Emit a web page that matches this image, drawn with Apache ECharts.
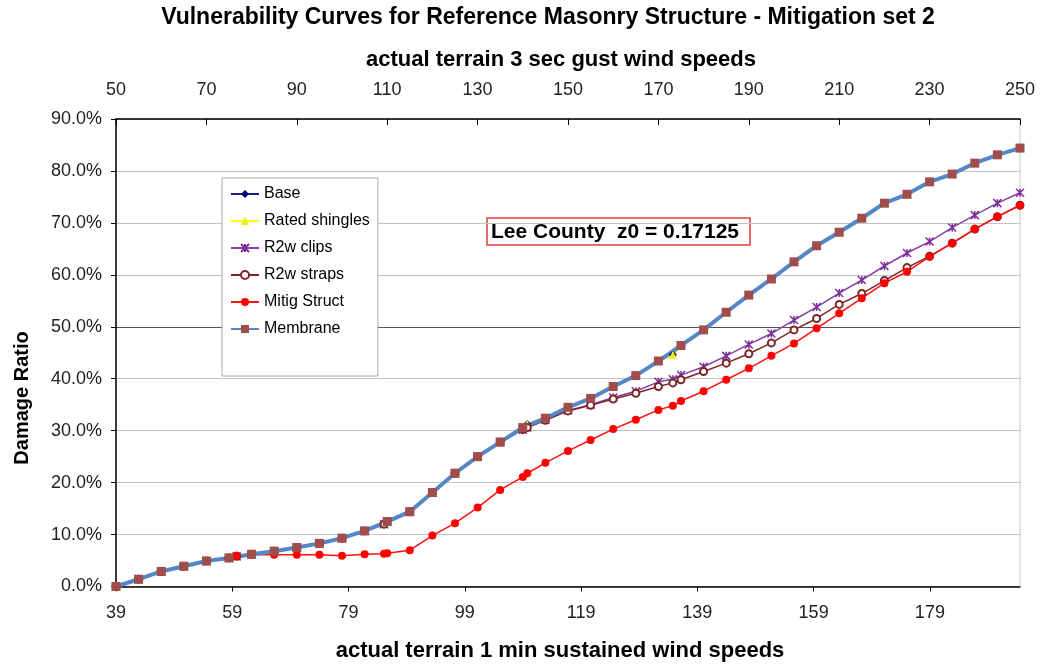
<!DOCTYPE html>
<html>
<head>
<meta charset="utf-8">
<script src="https://cdn.jsdelivr.net/npm/echarts@6/dist/echarts.min.js"></script>
<style>
html,body{margin:0;padding:0;background:#fff;}
#chart{width:1040px;height:666px;}
</style>
</head>
<body>
<div id="chart"></div>
<script>
// ---- data ----
const seriesNames = ['Base', 'Rated shingles', 'R2w clips', 'R2w straps', 'Mitig Struct', 'Membrane'];

// 3-sec gust wind speeds at which Membrane is tabulated
const gustMembrane = [50,55,60,65,70,75,80,85,90,95,100,105,110,115,120,125,130,135,140,145,150,155,160,165,170,175,180,185,190,195,200,205,210,215,220,225,230,235,240,245,250];
// 3-sec gust wind speeds for the other series (extra points included)
const gustOthers = [50,55,60,65,70,75,76.7,80,85,90,95,100,105,109.3,110,115,120,125,130,135,140,141,145,150,155,160,165,170,173.2,175,180,185,190,195,200,205,210,215,220,225,230,235,240,245,250];

const membrane = [0,1.4,2.9,3.9,4.9,5.5,6.2,6.8,7.5,8.3,9.3,10.7,12.5,14.4,18.1,21.8,25.0,27.8,30.6,32.4,34.5,36.2,38.5,40.6,43.4,46.4,49.4,52.8,56.1,59.2,62.5,65.6,68.2,70.9,73.8,75.5,77.9,79.4,81.5,83.1,84.4];
const base = [0,1.4,2.9,3.9,4.9,5.5,5.8,6.2,6.8,7.5,8.3,9.3,10.7,12.2,12.5,14.4,18.1,21.8,25.0,27.8,30.6,31.3,32.4,34.5,36.2,38.5,40.6,43.4,44.6,46.4,49.4,52.8,56.1,59.2,62.5,65.6,68.2,70.9,73.8,75.5,77.9,79.4,81.5,83.1,84.4];
const ratedShingles = [0,1.4,2.9,3.9,4.9,5.5,5.8,6.2,6.8,7.5,8.3,9.3,10.7,12.2,12.5,14.4,18.1,21.8,25.0,27.8,30.6,31.3,32.4,34.5,36.2,38.5,40.6,43.4,44.6,46.4,49.4,52.8,56.1,59.2,62.5,65.6,68.2,70.9,73.8,75.5,77.9,79.4,81.5,83.1,84.4];
const r2wClips = [0,1.4,2.9,3.9,4.9,5.5,5.8,6.2,6.8,7.5,8.3,9.3,10.7,12.0,12.5,14.4,18.1,21.8,25.0,27.8,30.2,30.6,32.1,33.9,35.0,36.4,37.6,39.4,39.9,40.7,42.3,44.4,46.6,48.7,51.3,53.8,56.5,59.0,61.7,64.2,66.4,69.1,71.5,73.8,75.8];
const r2wStraps = [0,1.4,2.9,3.9,4.9,5.5,5.8,6.2,6.8,7.5,8.3,9.3,10.7,12.0,12.5,14.4,18.1,21.8,25.0,27.8,30.2,30.6,32.0,33.8,34.9,36.1,37.2,38.5,39.2,39.8,41.4,43.0,44.8,46.9,49.4,51.6,54.3,56.4,58.9,61.4,63.6,66.1,68.8,71.2,73.4];
const mitigStruct = [0,1.4,2.9,3.9,4.9,5.5,5.9,6.1,6.1,6.1,6.1,5.9,6.2,6.3,6.4,7.0,9.8,12.2,15.2,18.6,21.1,21.8,23.8,26.1,28.2,30.3,32.1,34.0,34.8,35.7,37.6,39.8,42.0,44.4,46.8,49.7,52.6,55.5,58.4,60.6,63.5,66.1,68.8,71.2,73.4];

const titleText = 'Vulnerability Curves for Reference Masonry Structure - Mitigation set 2';
const topAxisTitle = 'actual terrain 3 sec gust wind speeds';
const bottomAxisTitle = 'actual terrain 1 min sustained wind speeds';
const yAxisTitle = 'Damage Ratio';
const noteText = 'Lee County  z0 = 0.17125';

// ---- chart ----
const FONT = '"Liberation Sans", Arial, Helvetica, sans-serif';
const pairs = (xs, ys) => xs.map((x, i) => [x, ys[i]]);

const splitColors = [];
for (let i = 0; i < 10; i++) splitColors.push(i === 5 ? '#555555' : '#c4c4c4');

const chart = echarts.init(document.getElementById('chart'), null, {renderer: 'canvas'});

const option = {
  animation: false,
  backgroundColor: '#ffffff',
  grid: {
    left: 116, right: 20, top: 119, bottom: 79.5,
    show: true, borderColor: '#c8c8c8', borderWidth: 1, backgroundColor: 'transparent'
  },
  legend: {
    orient: 'vertical',
    left: 222, top: 178,
    itemWidth: 28, itemHeight: 10, itemGap: 11,
    padding: [8, 8, 39, 8],
    backgroundColor: '#ffffff',
    borderColor: '#a8a8a8', borderWidth: 1,
    textStyle: {fontFamily: FONT, fontSize: 16, color: '#000'},
    data: seriesNames
  },
  xAxis: [
    {
      type: 'value', position: 'bottom',
      min: 39, max: 194.5, interval: 20,
      axisLine: {show: true, lineStyle: {color: '#000', width: 1.5}},
      axisTick: {show: true, inside: false, length: 5, lineStyle: {color: '#000'}},
      axisLabel: {fontFamily: FONT, fontSize: 18, color: '#222', margin: 18, showMaxLabel: false},
      splitLine: {show: false}
    },
    {
      type: 'value', position: 'top',
      min: 50, max: 250, interval: 20,
      axisLine: {show: true, lineStyle: {color: '#000', width: 1.5}},
      axisTick: {show: true, inside: true, length: 6, lineStyle: {color: '#000'}},
      axisLabel: {fontFamily: FONT, fontSize: 18, color: '#222', margin: 20},
      splitLine: {show: false}
    }
  ],
  yAxis: {
    type: 'value', min: 0, max: 90, interval: 10,
    axisLine: {show: true, lineStyle: {color: '#000', width: 1.5}},
    axisTick: {show: true, inside: false, length: 5, lineStyle: {color: '#000'}},
    axisLabel: {fontFamily: FONT, fontSize: 18, color: '#222', margin: 14,
      formatter: v => v.toFixed(1) + '%'},
    splitLine: {show: true, lineStyle: {color: splitColors, width: 1}}
  },
  series: [
    {
      name: 'Base', type: 'line', xAxisIndex: 1,
      data: pairs(gustOthers, base),
      symbol: 'diamond', symbolSize: 8,
      lineStyle: {color: '#1a1a80', width: 1.5},
      itemStyle: {color: '#000080'}
    },
    {
      name: 'Rated shingles', type: 'line', xAxisIndex: 1,
      data: pairs(gustOthers, ratedShingles),
      symbol: 'triangle', symbolSize: 8,
      lineStyle: {color: '#ffff00', width: 1.5},
      itemStyle: {color: '#f0f000'}
    },
    {
      name: 'R2w clips', type: 'line', xAxisIndex: 1,
      data: pairs(gustOthers, r2wClips),
      symbol: 'path://M0,0L10,10M10,0L0,10M5,0L5,10', symbolSize: 8,
      lineStyle: {color: '#8a3fa8', width: 1.5},
      itemStyle: {color: '#7a2f98', borderColor: '#7a2f98', borderWidth: 1.5}
    },
    {
      name: 'R2w straps', type: 'line', xAxisIndex: 1,
      data: pairs(gustOthers, r2wStraps),
      symbol: 'emptyCircle', symbolSize: 7,
      lineStyle: {color: '#7b2525', width: 1.5},
      itemStyle: {color: '#7b2525', borderWidth: 1.2}
    },
    {
      name: 'Mitig Struct', type: 'line', xAxisIndex: 1,
      data: pairs(gustOthers, mitigStruct),
      symbol: 'circle', symbolSize: 8,
      lineStyle: {color: '#ff1010', width: 1.5},
      itemStyle: {color: '#ff0000'}
    },
    {
      name: 'Membrane', type: 'line', xAxisIndex: 1,
      data: pairs(gustMembrane, membrane),
      symbol: 'rect', symbolSize: 9,
      lineStyle: {color: '#5487c6', width: 4},
      itemStyle: {color: '#a14d4b'}
    }
  ],
  graphic: [
    {type: 'text', x: 548, y: 18, style: {text: titleText, font: 'bold 23px ' + FONT, fill: '#000',
      align: 'center', verticalAlign: 'middle', textAlign: 'center', textVerticalAlign: 'middle'}},
    {type: 'text', x: 561, y: 60, style: {text: topAxisTitle, font: 'bold 22px ' + FONT, fill: '#000',
      align: 'center', verticalAlign: 'middle', textAlign: 'center', textVerticalAlign: 'middle'}},
    {type: 'text', x: 560, y: 651, style: {text: bottomAxisTitle, font: 'bold 22px ' + FONT, fill: '#000',
      align: 'center', verticalAlign: 'middle', textAlign: 'center', textVerticalAlign: 'middle'}},
    {type: 'text', x: 22, y: 398, rotation: Math.PI / 2, style: {text: yAxisTitle, font: 'bold 20px ' + FONT, fill: '#000',
      align: 'center', verticalAlign: 'middle', textAlign: 'center', textVerticalAlign: 'middle'}},
    {type: 'group', children: [
      {type: 'rect', shape: {x: 487, y: 218, width: 263, height: 27},
        style: {fill: '#ffffff', stroke: '#e23c3c', lineWidth: 1.5}},
      {type: 'text', x: 491, y: 232, style: {text: noteText, font: 'bold 21px ' + FONT, fill: '#000',
        align: 'left', verticalAlign: 'middle', textAlign: 'left', textVerticalAlign: 'middle'}}
    ]}
  ]
};
chart.setOption(option);
</script>
</body>
</html>
